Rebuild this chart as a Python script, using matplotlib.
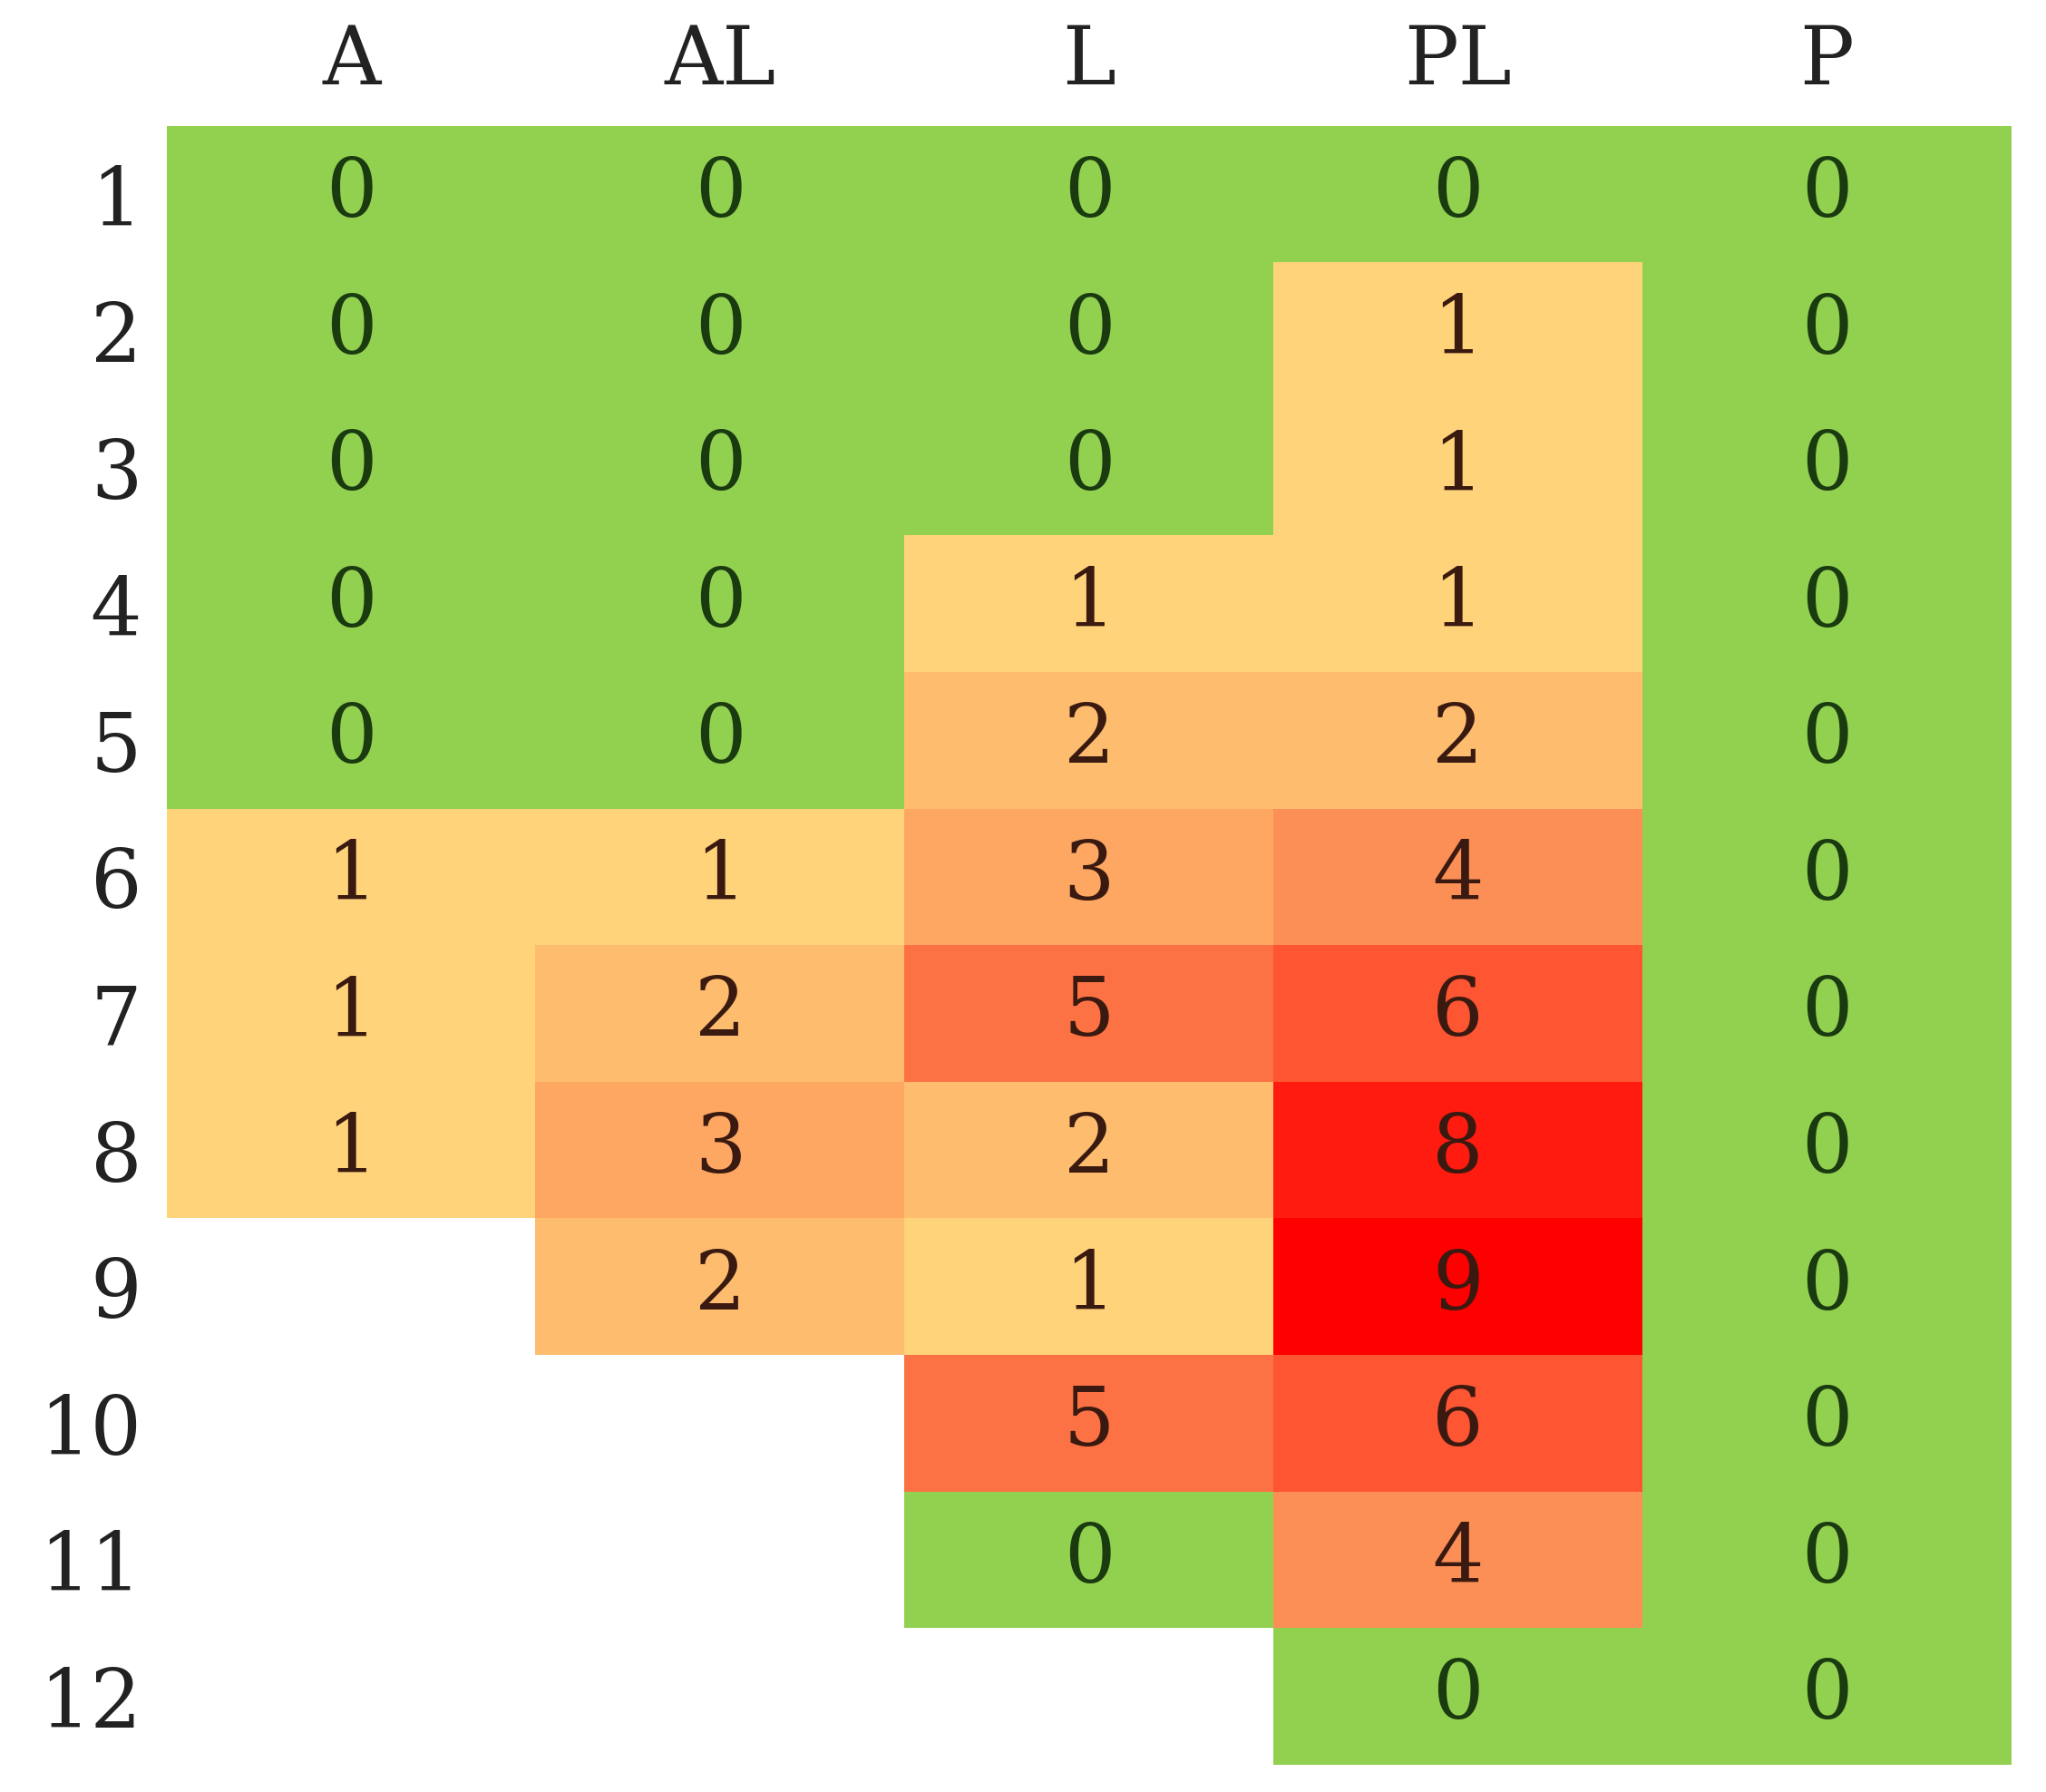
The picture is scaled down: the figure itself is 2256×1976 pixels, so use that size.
import numpy as np
import matplotlib.pyplot as plt
from matplotlib.colors import LinearSegmentedColormap

columns = ['A', 'AL', 'L', 'PL', 'P']
rows = [str(i) for i in range(1, 13)]
nan = np.nan
col_A = [0, 0, 0, 0, 0, 1, 1, 1, nan, nan, nan, nan]
col_AL = [0, 0, 0, 0, 0, 1, 2, 3, 2, nan, nan, nan]
col_L = [0, 0, 0, 1, 2, 3, 5, 2, 1, 5, 0, nan]
col_PL = [0, 1, 1, 1, 2, 4, 6, 8, 9, 6, 4, 0]
col_P = [0] * 12

data = np.array([col_A, col_AL, col_L, col_PL, col_P], dtype=float).T

green = (146/255, 208/255, 80/255)
warm = LinearSegmentedColormap.from_list(
    'warm', [(1.0, 0.83, 0.48), (0.99, 0.6, 0.36), (1.0, 0.3, 0.18), (1.0, 0.0, 0.0)])

rgba = np.ones(data.shape + (4,))
for i in range(data.shape[0]):
    for j in range(data.shape[1]):
        v = data[i, j]
        if np.isnan(v):
            continue
        rgba[i, j] = (*green, 1) if v == 0 else warm((v - 1) / 8)

fig = plt.figure(figsize=(22.56, 19.76), dpi=100)
ax = fig.add_axes([0.0816, 0.0153, 0.9015, 0.9142])
ax.imshow(rgba, aspect='auto', interpolation='nearest')

for i in range(data.shape[0]):
    for j in range(data.shape[1]):
        v = data[i, j]
        if np.isnan(v):
            continue
        c = '#1a3a10' if v == 0 else '#3a1a10'
        ax.text(j, i, f'{int(v)}', ha='center', va='center', fontsize=64,
                family='DejaVu Serif', color=c)

ax.set_xticks(range(len(columns)))
ax.set_xticklabels(columns, fontsize=64, family='DejaVu Serif', color='#222222')
ax.xaxis.tick_top()
ax.set_yticks(range(len(rows)))
ax.set_yticklabels(rows, fontsize=64, family='DejaVu Serif', color='#222222')
ax.tick_params(length=0, pad=20)
for s in ax.spines.values():
    s.set_visible(False)

fig.savefig('out.png', dpi=100)
